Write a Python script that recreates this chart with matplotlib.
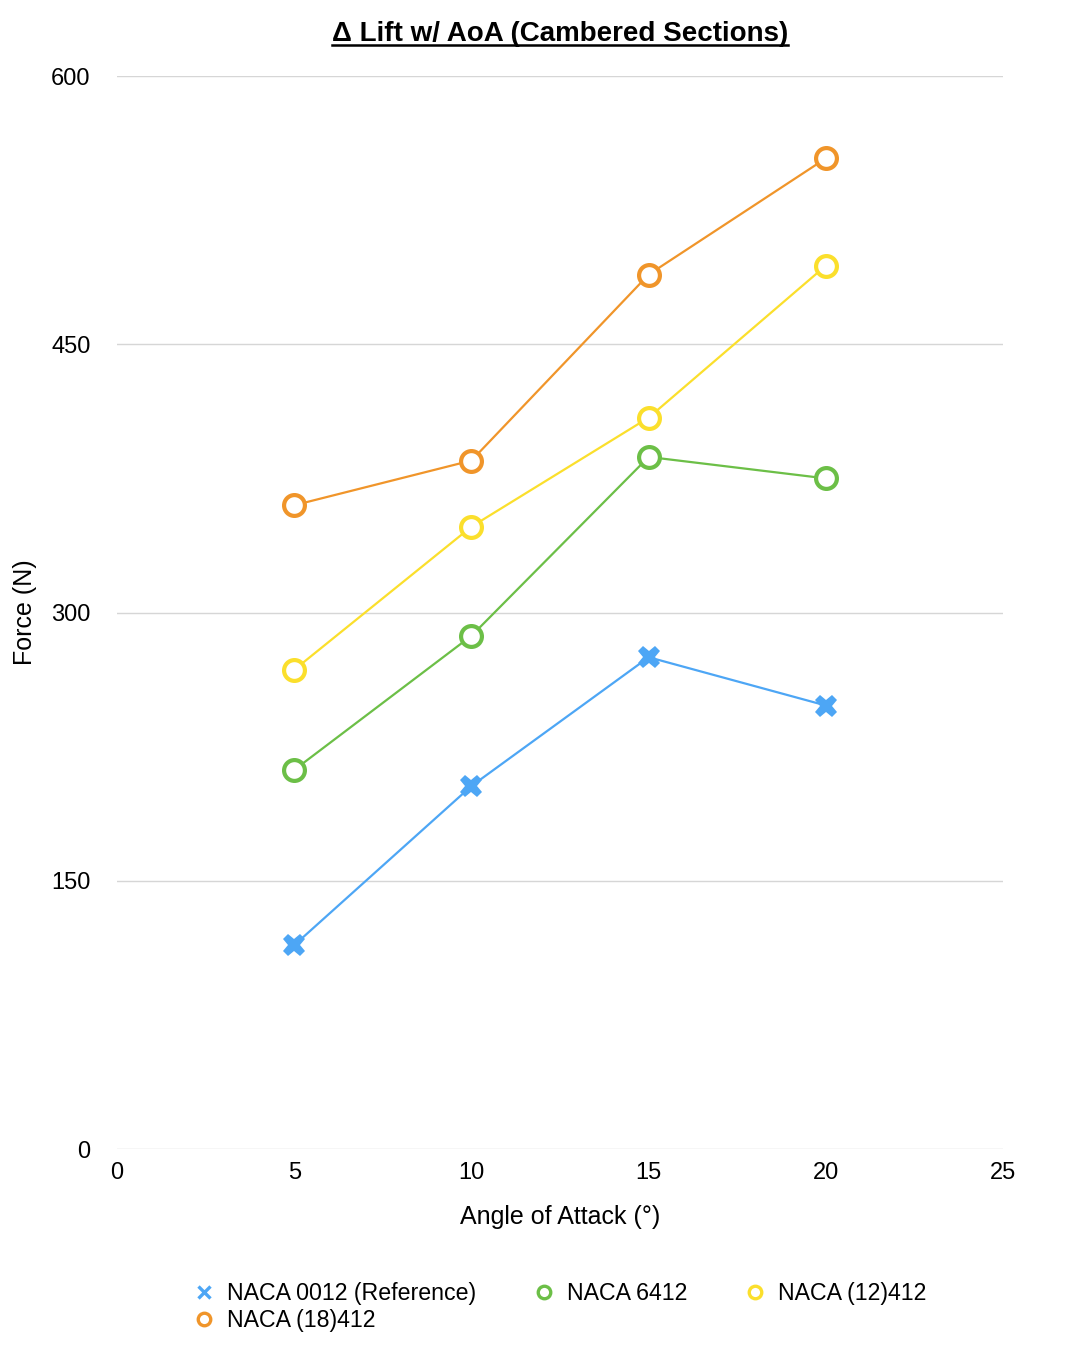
import numpy as np
import matplotlib
matplotlib.use('Agg')
import matplotlib.pyplot as plt

plt.rcParams['font.family'] = ['Liberation Sans', 'DejaVu Sans']

########### data ####################################
aoa = [5, 10, 15, 20]
naca0012 = [114, 203, 275, 248]
naca6412 = [212, 287, 387, 375]
naca12412 = [268, 348, 409, 494]
naca18412 = [360, 385, 489, 554]

series = [
	('NACA 0012 (Reference)', naca0012, '#4da6f5', 'X'),
	('NACA 6412', naca6412, '#6cbf47', 'o'),
	('NACA (12)412', naca12412, '#fbdf2c', 'o'),
	('NACA (18)412', naca18412, '#f0952a', 'o'),
]

fig = plt.figure(figsize=(10.66, 13.58), dpi=100)
ax = fig.add_axes([0.1098, 0.1539, 0.8312, 0.7901])

for name, vals, col, mk in series:
	if mk == 'X':
		ax.plot(aoa, vals, color=col, lw=1.6, marker='X', markersize=16,
				markeredgewidth=0, label=name, zorder=3)
	else:
		ax.plot(aoa, vals, color=col, lw=1.6, marker='o', markersize=15,
				markerfacecolor='white', markeredgecolor=col, markeredgewidth=3,
				label=name, zorder=3)

ax.set_xlim(0, 25)
ax.set_ylim(0, 600)
ax.set_xticks([0, 5, 10, 15, 20, 25])
ax.set_yticks([0, 150, 300, 450, 600])
ax.tick_params(length=0, labelsize=17)
ax.tick_params(axis='x', pad=9)
ax.tick_params(axis='y', pad=19)
ax.grid(axis='y', color='#d6d6d6', lw=1)
ax.set_axisbelow(True)
for s in ax.spines.values():
	s.set_visible(False)

ax.set_xlabel('Angle of Attack (°)', fontsize=18, labelpad=15.5)
ax.set_ylabel('Force (N)', fontsize=18, labelpad=10)

title = fig.text(0.5255, 0.9752, 'Δ Lift w/ AoA (Cambered Sections)', ha='center', va='center',
				fontsize=20, fontweight='bold')
fig.canvas.draw()
bb = title.get_window_extent().transformed(fig.transFigure.inverted())
fig.add_artist(plt.Line2D([bb.x0, bb.x1], [bb.y0 + 0.001, bb.y0 + 0.001], color='black', lw=1.8,
				transform=fig.transFigure))

labels = [s[0] for s in series]
leg_handles = []
for name, vals, col, mk in series:
	if mk == 'X':
		h = plt.Line2D([], [], color=col, marker='x', ls='none', markersize=9, markeredgewidth=2.4)
	else:
		h = plt.Line2D([], [], color=col, marker='o', ls='none', markersize=9,
					markerfacecolor='white', markeredgecolor=col, markeredgewidth=2.4)
	leg_handles.append(h)
# legend fills by column, so reorder to get the row layout
order = [0, 3, 1, 2]
fig.legend([leg_handles[i] for i in order], [labels[i] for i in order],
			loc='upper left', bbox_to_anchor=(0.172, 0.063), ncol=3,
			frameon=False, fontsize=16.7, handletextpad=0.5, columnspacing=2.4,
			labelspacing=0.18, handlelength=1.0, borderaxespad=0)

fig.savefig('out.png', dpi=100)
